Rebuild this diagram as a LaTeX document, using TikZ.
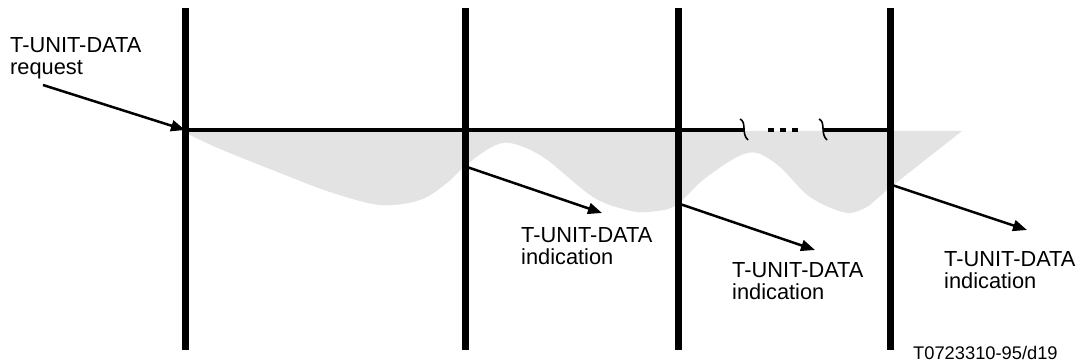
\documentclass[tikz,border=0pt]{standalone}
\usepackage{fontspec}
\setmainfont{Liberation Sans}
\usetikzlibrary{arrows.meta,positioning}
\definecolor{lightshade}{gray}{0.89}

\begin{document}
\begin{tikzpicture}
[x=1pt, y=-1pt,
 lbl/.style={anchor=north west, inner sep=0pt, align=left, font=\fontsize{21.8}{22}\selectfont},
 station/.style={line width=7pt},
 prim/.style={-{Triangle[length=14pt,width=11pt]}, line width=2.5pt},
 wave/.style={line width=1.6pt}]

\useasboundingbox (0,0) rectangle (1086,363);

%Shading
\fill[lightshade] (188,131) -- (962,131) -- (887,190)
  -- plot[smooth, tension=0.55] coordinates {(870,205) (847,213) (810,197) (780,167) (757,153) (737,157) (703,180) (675,206) (647,212) (627,210) (593,197) (543,157) (510,143) (490,148) (465,166) (447,183) (420,200) (380,205) (330,192) (280,173) (220,149) (188,134)}
  -- cycle;

%Nodes
\coordinate (s1top) at (185,8);   \coordinate (s1bot) at (185,350);
\coordinate (s2top) at (465,8);   \coordinate (s2bot) at (465,350);
\coordinate (s3top) at (678,8);   \coordinate (s3bot) at (678,350);
\coordinate (s4top) at (890,8);   \coordinate (s4bot) at (890,350);
\coordinate (left) at (185,130);
\coordinate (right) at (890,130);
\coordinate (brkA) at (744,130);
\coordinate (brkB) at (823,130);
\coordinate (src) at (43,85);
\coordinate (out2) at (467,167);  \coordinate (tip2) at (602,213);
\coordinate (out3) at (680,204);  \coordinate (tip3) at (815,250);
\coordinate (out4) at (892,185);  \coordinate (tip4) at (1027,230);

\node[lbl] (req) at (10,37) {T-UNIT-DATA\\request};
\node[lbl] (ind2) at (521,227) {T-UNIT-DATA\\indication};
\node[lbl] (ind3) at (732,262) {T-UNIT-DATA\\indication};
\node[lbl] (ind4) at (944,251) {T-UNIT-DATA\\indication};
\node[anchor=north west, inner sep=0pt, font=\fontsize{18.3}{18}\selectfont] (ref) at (913,346) {T0723310-95/d19};

%Lines
\draw[station] (s1top) -- (s1bot);
\draw[station] (s2top) -- (s2bot);
\draw[station] (s3top) -- (s3bot);
\draw[station] (s4top) -- (s4bot);
\draw[line width=3.2pt] (left) -- (brkA);
\draw[line width=3.2pt] (brkB) -- (right);
\draw[line width=3.2pt, dash pattern=on 6pt off 6pt] (768,130) -- (799,130);
\foreach \x in {744,823}
  \draw[wave] (\x-4,119) .. controls (\x+3,122) and (\x-3,134) .. (\x+4,140);

\draw[prim] (src) -- (left);
\draw[prim] (out2) -- (tip2);
\draw[prim] (out3) -- (tip3);
\draw[prim] (out4) -- (tip4);

\end{tikzpicture}
\end{document}
